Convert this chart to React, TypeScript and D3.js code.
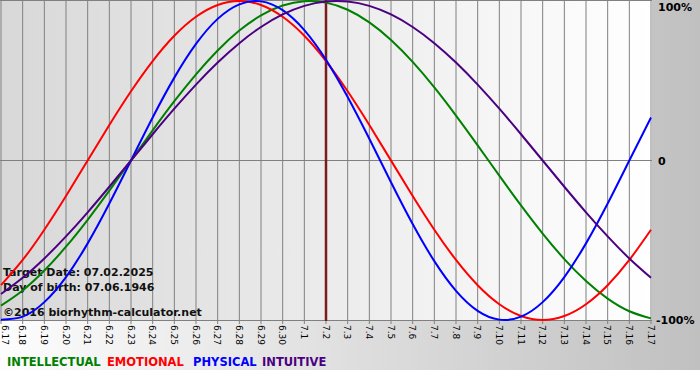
import React from "react";
import * as d3 from "d3";

const days = ["6.17","6.18","6.19","6.20","6.21","6.22","6.23","6.24","6.25","6.26","6.27","6.28","6.29","6.30","7.1","7.2","7.3","7.4","7.5","7.6","7.7","7.8","7.9","7.10","7.11","7.12","7.13","7.14","7.15","7.16","7.17"];

const intellectual = [-0.9096,-0.8146,-0.6901,-0.5406,-0.3717,-0.1893,0,0.1893,0.3717,0.5406,0.6901,0.8146,0.9096,0.9718,0.9989,0.9898,0.945,0.866,0.7557,0.6182,0.4582,0.2817,0.0951,-0.0951,-0.2817,-0.4582,-0.6182,-0.7557,-0.866,-0.945,-0.9898];
const emotional = [-0.7818,-0.6235,-0.4339,-0.2225,0,0.2225,0.4339,0.6235,0.7818,0.901,0.9749,1,0.9749,0.901,0.7818,0.6235,0.4339,0.2225,0,-0.2225,-0.4339,-0.6235,-0.7818,-0.901,-0.9749,-1,-0.9749,-0.901,-0.7818,-0.6235,-0.4339];
const physical = [-0.9977,-0.9791,-0.8879,-0.7308,-0.5196,-0.2698,0,0.2698,0.5196,0.7308,0.8879,0.9791,0.9977,0.9423,0.817,0.6311,0.3984,0.1362,-0.1362,-0.3984,-0.6311,-0.817,-0.9423,-0.9977,-0.9791,-0.8879,-0.7308,-0.5196,-0.2698,0,0.2698];
const intuitive = [-0.8372,-0.7357,-0.6142,-0.4759,-0.3247,-0.1646,0,0.1646,0.3247,0.4759,0.6142,0.7357,0.8372,0.9158,0.9694,0.9966,0.9966,0.9694,0.9158,0.8372,0.7357,0.6142,0.4759,0.3247,0.1646,0,-0.1646,-0.3247,-0.4759,-0.6142,-0.7357];

const targetDay = "7.2";
const yTicks = [
  { v: 1, label: "100%" },
  { v: 0, label: "0" },
  { v: -1, label: "-100%" },
];
const series = [
  { name: "INTELLECTUAL", values: intellectual, color: "#008000" },
  { name: "EMOTIONAL", values: emotional, color: "#ff0000" },
  { name: "PHYSICAL", values: physical, color: "#0000ff" },
  { name: "INTUITIVE", values: intuitive, color: "#4b0082" },
];
const infoLines = ["Target Date: 07.02.2025", "Day of birth: 07.06.1946", "", "\u00a92016 biorhythm-calculator.net"];

export default function App() {
  const W = 700, H = 380, chartH = 370;
  const plotL = 0, plotR = 652, plotT = 0, plotB = 321;
  const x = d3.scalePoint<string>().domain(days).range([1, 651]);
  const y = d3.scaleLinear().domain([-1, 1]).range([320, 1]);
  const line = d3.line<number>()
    .x((_, i) => x(days[i]) as number)
    .y((d) => y(d))
    .curve(d3.curveNatural);
  const font = "'DejaVu Sans', Verdana, sans-serif";
  const legendX = [7, 107, 193, 262];

  return (
    <svg width={W} height={H} style={{ position: "absolute", left: 0, top: 0, display: "block" }}>
      <defs>
        <linearGradient id="outerBg" x1="0" y1="0" x2="1" y2="0">
          <stop offset="0" stopColor="#fdfdfd" />
          <stop offset="1" stopColor="#c0c0c0" />
        </linearGradient>
        <linearGradient id="plotBg" x1="0" y1="0" x2="1" y2="0">
          <stop offset="0" stopColor="#d8d8d8" />
          <stop offset="1" stopColor="#ffffff" />
        </linearGradient>
        <clipPath id="plotClip">
          <rect x={plotL} y={plotT} width={plotR - plotL} height={plotB - plotT} />
        </clipPath>
      </defs>
      <rect x={0} y={0} width={W} height={H} fill="#ffffff" />
      <rect x={0} y={0} width={W} height={chartH} fill="url(#outerBg)" />
      <rect x={plotL} y={plotT} width={plotR - plotL} height={plotB - plotT} fill="url(#plotBg)" />
      {days.map((d) => (
        <line key={d} x1={(x(d) as number)} x2={(x(d) as number)} y1={plotT} y2={plotB + 3} stroke="#808080" strokeWidth={1} />
      ))}
      <line x1={plotL} x2={plotR} y1={y(0)} y2={y(0)} stroke="#808080" strokeWidth={1} />
      <line x1={plotL} x2={plotR} y1={plotT + 0.5} y2={plotT + 0.5} stroke="#808080" strokeWidth={1} />
      <line x1={plotL} x2={plotR} y1={plotB - 0.5} y2={plotB - 0.5} stroke="#808080" strokeWidth={1} />
      <line x1={x(targetDay) as number} x2={x(targetDay) as number} y1={plotT} y2={plotB} stroke="#7a1c1c" strokeWidth={2.5} />
      <g fontFamily={font} fontWeight="bold" fontSize={11} fill="#111">
        {infoLines.map((t, i) => t ? (
          <text key={i} x={3} y={276 + i * 15 - (i === 3 ? 5 : 0)}>{t}</text>
        ) : null)}
      </g>
      <g clipPath="url(#plotClip)">
        {series.map((s) => (
          <path key={s.name} d={line(s.values) || ""} fill="none" stroke={s.color} strokeWidth={2} />
        ))}
      </g>
      <g fontFamily={font} fontSize={9} fill="#000">
        {days.map((d, i) => (
          <text key={d} transform={`translate(${Math.max((x(d) as number) - 1, i === 0 ? 4 : 0)},${plotB + 4}) rotate(90)`} dominantBaseline="middle">{d}</text>
        ))}
      </g>
      <g fontFamily={font} fontWeight="bold" fontSize={11} fill="#000">
        {yTicks.map((t) => (
          <text key={t.label} x={t.v === -1 ? 656 : 658} y={y(t.v) + 4 + (t.v === 1 ? 6 : 0)}>{t.label}</text>
        ))}
      </g>
      <g fontFamily={font} fontWeight="bold" fontSize={11.5}>
        {series.map((s, i) => (
          <text key={s.name} x={legendX[i]} y={366} fill={s.color}>{s.name}</text>
        ))}
      </g>
    </svg>
  );
}
